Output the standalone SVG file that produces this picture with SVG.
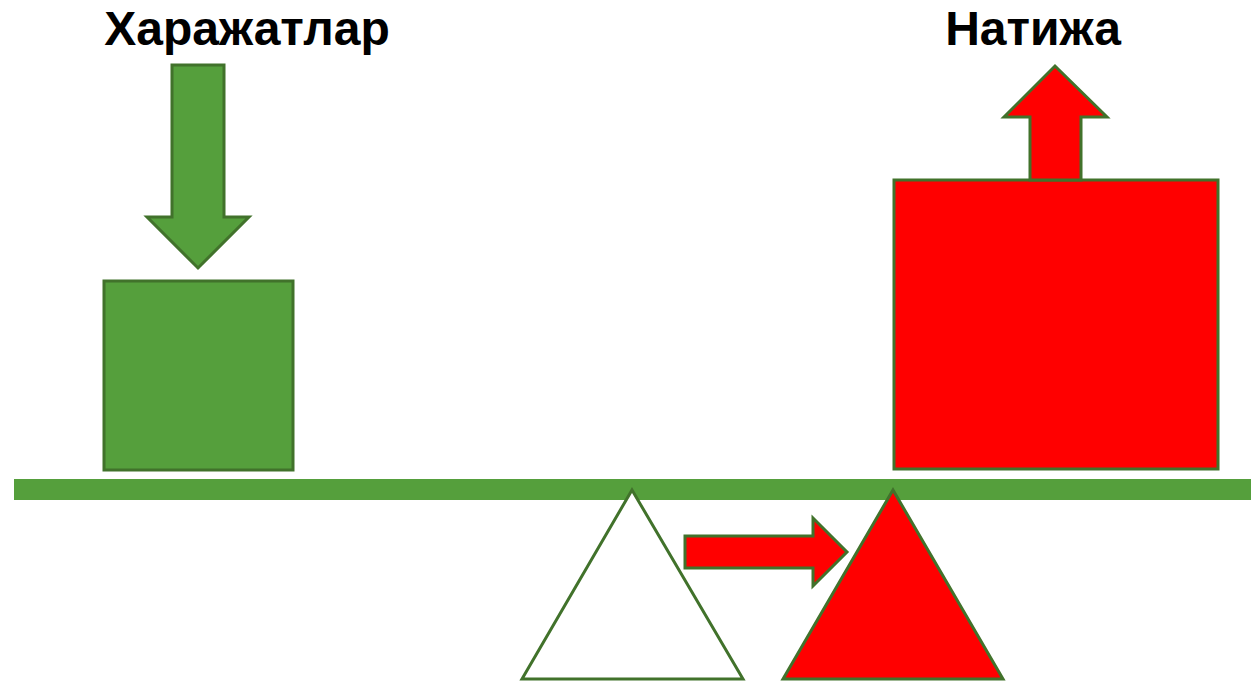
<svg xmlns="http://www.w3.org/2000/svg" width="1254" height="681" viewBox="0 0 1254 681">
<style>
.t{font-family:"Liberation Sans",Arial,sans-serif;font-weight:bold;font-size:48px;fill:#000;text-anchor:middle}
.g{fill:#559f3c;stroke:#41722b;stroke-width:3}
.r{fill:#ff0000;stroke:#41722b;stroke-width:3}
.w{fill:#ffffff;stroke:#41722b;stroke-width:3}
</style>
<rect width="1254" height="681" fill="#fff"/>
<g id="label-costs"><text class="t" x="247" y="45">Харажатлар</text></g>
<g id="label-result"><text class="t" x="1033" y="45">Натижа</text></g>
<g id="beam"><rect x="14" y="479" width="1237" height="21" fill="#559f3c"/></g>
<g id="costs-box"><rect class="g" x="104" y="281" width="189" height="189"/></g>
<g id="result-box"><rect class="r" x="894" y="180" width="324" height="289"/></g>
<g id="fulcrum-old"><polygon class="w" points="632,490 743,679 522,679"/></g>
<g id="fulcrum-new"><polygon class="r" points="893,490 1003,679 783,679"/></g>
<g id="connectors">
<polygon class="g" points="172,65 224,65 224,217 249,217 198,268 147,217 172,217"/>
<polygon class="r" points="1030,180 1030,117 1004,117 1055,66 1107,117 1081,117 1081,180"/>
<polygon class="r" points="685,536 813,536 813,518 847,552 813,586 813,568 685,568"/>
</g>
</svg>
